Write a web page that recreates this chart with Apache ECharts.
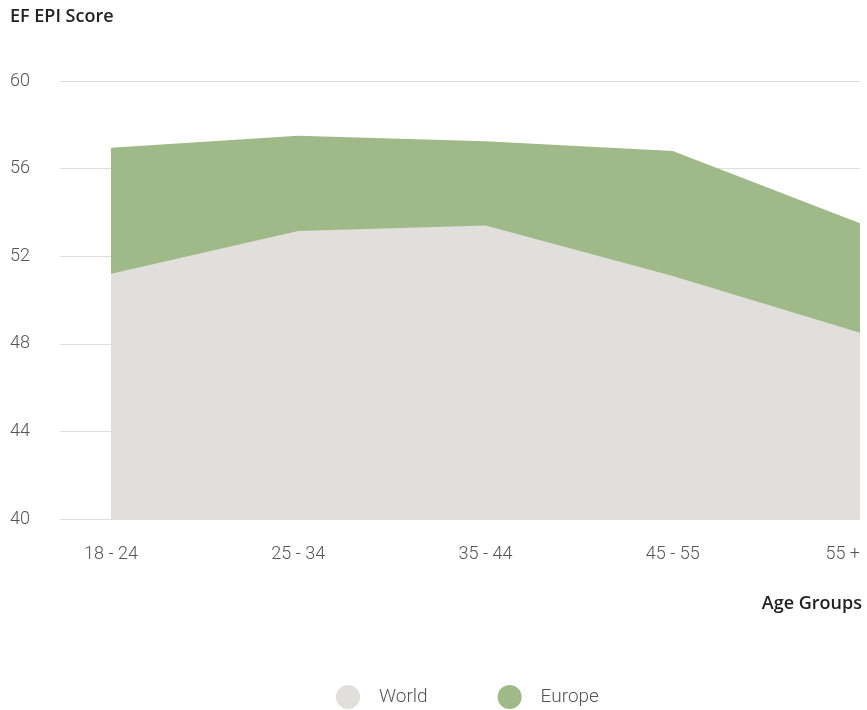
<!DOCTYPE html>
<html>
<head>
<meta charset="utf-8">
<script src="https://cdn.jsdelivr.net/npm/echarts@6/dist/echarts.min.js"></script>
<style>
  html, body { margin: 0; padding: 0; background: #fff; }
  #chart { width: 867px; height: 710px; }
</style>
</head>
<body>
<div id="chart"></div>
<script>
// 年龄段
const ageGroups = ['18 - 24', '25 - 34', '35 - 44', '45 - 55', '55 +']
// EF EPI 分数
const worldScores = [51.2, 53.15, 53.4, 51.1, 48.5]
const europeScores = [56.95, 57.5, 57.25, 56.8, 53.5]
const yTicks = [40, 44, 48, 52, 56, 60]

const chart = echarts.init(document.getElementById('chart'))

const labelFont = { fontFamily: 'Roboto', fontWeight: 300, fontSize: 18, color: '#555' }

const option = {
  animation: false,
  textStyle: { fontFamily: 'Roboto' },
  grid: [
    { left: 60, right: 7, top: 81, bottom: 191, outerBoundsMode: 'none' },
    { left: 111, right: 7, top: 81, bottom: 191, outerBoundsMode: 'none' }
  ],
  xAxis: [
    { gridIndex: 0, type: 'category', data: ageGroups, show: false },
    {
      gridIndex: 1,
      type: 'category',
      data: ageGroups,
      boundaryGap: false,
      axisLine: { show: false },
      axisTick: { show: false },
      axisLabel: Object.assign({ margin: 26, alignMaxLabel: 'right', hideOverlap: false }, labelFont)
    }
  ],
  yAxis: [
    {
      gridIndex: 0,
      type: 'value',
      min: yTicks[0],
      max: yTicks[yTicks.length - 1],
      interval: 4,
      z: 3,
      axisLine: { show: false },
      axisTick: { show: false },
      axisLabel: Object.assign({ align: 'left', margin: 50 }, labelFont),
      splitLine: { lineStyle: { color: 'rgba(0,0,0,0.13)', width: 1 } }
    },
    {
      gridIndex: 1,
      type: 'value',
      min: yTicks[0],
      max: yTicks[yTicks.length - 1],
      interval: 4,
      show: false,
      splitLine: { show: false }
    }
  ],
  legend: {
    data: ['World', 'Europe'],
    left: 331,
    bottom: -4,
    icon: 'circle',
    itemWidth: 24,
    itemHeight: 24,
    itemGap: 70,
    textStyle: { fontFamily: 'Roboto', fontWeight: 300, fontSize: 19, color: '#555', padding: [0, 0, 0, 14] }
  },
  graphic: [
    {
      type: 'text', left: 10, top: 8,
      style: { text: 'EF EPI Score', font: '600 18px "Open Sans"', fill: '#222' }
    },
    {
      type: 'text', right: 5, top: 595,
      style: { text: 'Age Groups', font: '600 18px "Open Sans"', fill: '#222' }
    }
  ],
  series: [
    {
      name: 'Europe',
      type: 'line',
      xAxisIndex: 1,
      yAxisIndex: 1,
      data: europeScores,
      showSymbol: false,
      lineStyle: { width: 0 },
      itemStyle: { color: '#9fba88' },
      areaStyle: { color: '#9fba88', opacity: 1 }
    },
    {
      name: 'World',
      type: 'line',
      xAxisIndex: 1,
      yAxisIndex: 1,
      data: worldScores,
      showSymbol: false,
      lineStyle: { width: 0 },
      itemStyle: { color: '#e1dfdb' },
      areaStyle: { color: '#e1dfdb', opacity: 1 }
    }
  ]
}

chart.setOption(option)
</script>
</body>
</html>
